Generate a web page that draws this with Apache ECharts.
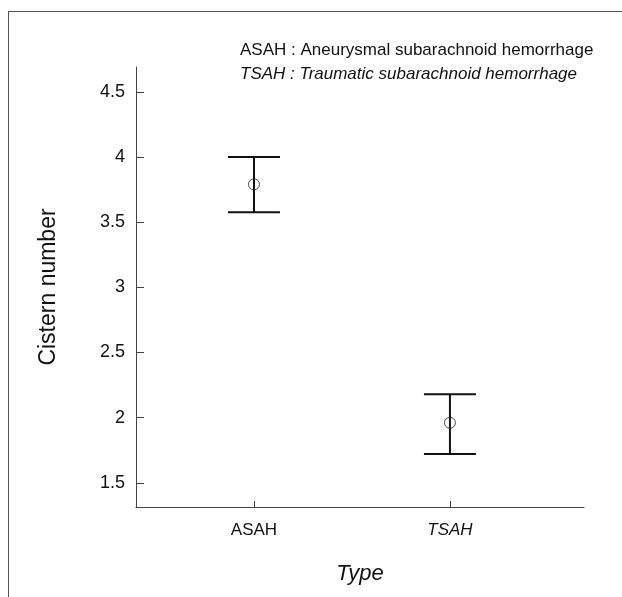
<!DOCTYPE html>
<html>
<head>
<meta charset="utf-8">
<script src="https://cdn.jsdelivr.net/npm/echarts@6/dist/echarts.min.js"></script>
<style>
  html, body { margin: 0; padding: 0; background: #fff; }
  #chart { width: 622px; height: 597px; }
</style>
</head>
<body>
<div id="chart"></div>
<script>
  // data
  const categories = ['ASAH', 'TSAH'];
  const means = [3.79, 1.96];
  const lower = [3.575, 1.72];
  const upper = [4.0, 2.18];
  const yTicks = [1.5, 2, 2.5, 3, 3.5, 4, 4.5];
  const legendLines = [
    'ASAH : Aneurysmal subarachnoid hemorrhage',
    'TSAH : Traumatic subarachnoid hemorrhage'
  ];

  const xPos = categories.map((c, i) => i + 1);
  const font = 'Liberation Sans';

  const chart = echarts.init(document.getElementById('chart'));

  const option = {
    animation: false,
    grid: { left: 136, right: 38, top: 67, bottom: 90 },
    xAxis: {
      type: 'value',
      min: 0.398,
      max: 2.684,
      name: 'Type',
      nameLocation: 'middle',
      nameGap: 56,
      nameTextStyle: { fontFamily: font, fontSize: 22, fontStyle: 'italic', color: '#111' },
      splitLine: { show: false },
      axisLine: { lineStyle: { color: '#444', width: 1 } },
      axisTick: { inside: true, length: 6, customValues: xPos, lineStyle: { color: '#444' } },
      axisLabel: {
        customValues: xPos,
        margin: 15,
        fontFamily: font,
        fontSize: 17,
        color: '#111',
        formatter: v => (v === 2 ? '{i|' : '{n|') + (categories[Math.round(v) - 1] || '') + '}',
        rich: {
          n: { fontFamily: font, fontSize: 17, color: '#111' },
          i: { fontFamily: font, fontSize: 17, fontStyle: 'italic', color: '#111' }
        }
      }
    },
    yAxis: {
      type: 'value',
      min: 1.314,
      max: 4.69,
      name: 'Cistern number',
      nameLocation: 'middle',
      nameGap: 76,
      nameTextStyle: { fontFamily: font, fontSize: 23, color: '#111' },
      splitLine: { show: false },
      axisLine: { show: true, lineStyle: { color: '#444', width: 1 } },
      axisTick: { inside: true, length: 8, customValues: yTicks, lineStyle: { color: '#444' } },
      axisLabel: { customValues: yTicks, margin: 11, fontFamily: font, fontSize: 18, color: '#111' }
    },
    graphic: [
      { type: 'line', shape: { x1: 8, y1: 11.5, x2: 622, y2: 11.5 }, style: { stroke: '#555', lineWidth: 1 } },
      { type: 'line', shape: { x1: 8.5, y1: 11, x2: 8.5, y2: 597 }, style: { stroke: '#555', lineWidth: 1 } },
      {
        type: 'text', left: 240, top: 42,
        style: { text: legendLines[0], fontFamily: font, fontSize: 17, fill: '#111' }
      },
      {
        type: 'text', left: 240, top: 66,
        style: { text: legendLines[1], fontFamily: font, fontSize: 17, fontStyle: 'italic', fill: '#111' }
      }
    ],
    series: [
      {
        type: 'custom',
        data: xPos.map((x, i) => [x, lower[i], upper[i]]),
        renderItem: function (params, api) {
          const x = api.value(0);
          const top = api.coord([x, api.value(2)]);
          const bot = api.coord([x, api.value(1)]);
          const hw = 26;
          const st = { stroke: '#111', lineWidth: 2 };
          return {
            type: 'group',
            children: [
              { type: 'line', shape: { x1: top[0], y1: top[1], x2: bot[0], y2: bot[1] }, style: st },
              { type: 'line', shape: { x1: top[0] - hw, y1: top[1], x2: top[0] + hw, y2: top[1] }, style: st },
              { type: 'line', shape: { x1: bot[0] - hw, y1: bot[1], x2: bot[0] + hw, y2: bot[1] }, style: st }
            ]
          };
        }
      },
      {
        type: 'scatter',
        data: xPos.map((x, i) => [x, means[i]]),
        symbol: 'circle',
        symbolSize: 11,
        itemStyle: { color: 'rgba(0,0,0,0)', borderColor: '#222', borderWidth: 1 },
        z: 3
      }
    ]
  };

  chart.setOption(option);
</script>
</body>
</html>
